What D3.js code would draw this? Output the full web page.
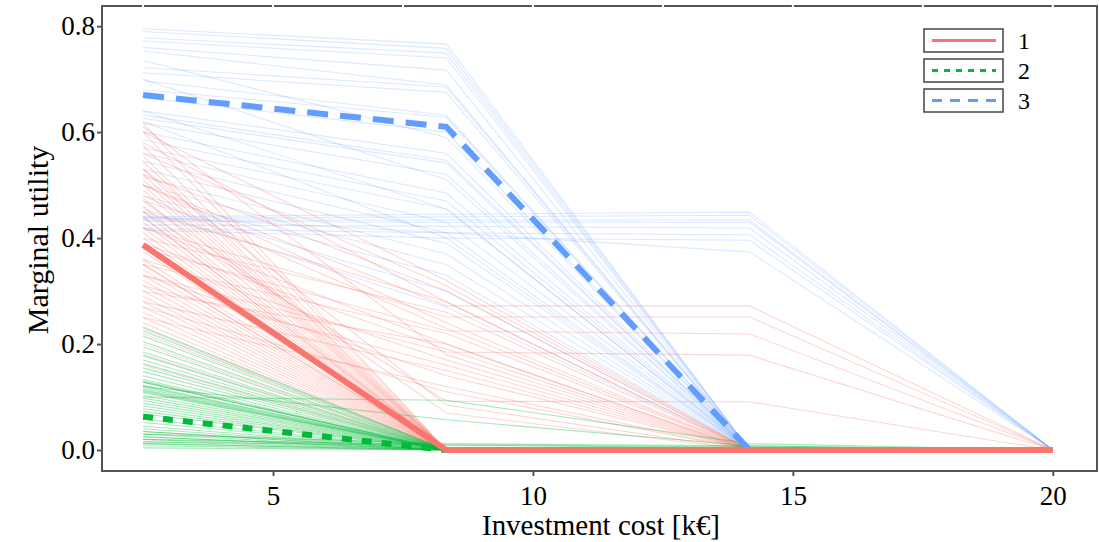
<!DOCTYPE html>
<html>
<head>
<meta charset="utf-8">
<script src="https://cdn.jsdelivr.net/npm/d3@7"></script>
<style>
  body { margin: 0; background: #fff; }
  svg { font-family: "Liberation Serif", "Times New Roman", serif; }
</style>
</head>
<body>
<div id="chart"></div>
<script>
// x positions of the four cost levels
const costs = [2.5, 8.333, 14.167, 20];
const xTicks = [5, 10, 15, 20];
const yTicks = [0, 0.2, 0.4, 0.6, 0.8];
const groups = ["1", "2", "3"];
const colors = ["#F8766D", "#00BA38", "#619CFF"];

// group 1 (red) individual curves
const redLines = [
  [0.617, 0, 0, 0], [0.600, 0, 0, 0], [0.575, 0, 0, 0], [0.555, 0, 0, 0],
  [0.545, 0, 0, 0], [0.530, 0, 0, 0], [0.520, 0, 0, 0], [0.510, 0, 0, 0],
  [0.500, 0, 0, 0], [0.490, 0, 0, 0], [0.475, 0, 0, 0], [0.460, 0, 0, 0],
  [0.450, 0, 0, 0], [0.440, 0, 0, 0], [0.430, 0, 0, 0], [0.420, 0, 0, 0],
  [0.410, 0, 0, 0], [0.400, 0, 0, 0], [0.390, 0, 0, 0], [0.375, 0, 0, 0],
  [0.360, 0, 0, 0], [0.350, 0, 0, 0], [0.340, 0, 0, 0], [0.330, 0, 0, 0],
  [0.320, 0, 0, 0], [0.310, 0, 0, 0], [0.300, 0, 0, 0], [0.290, 0, 0, 0],
  [0.280, 0, 0, 0], [0.270, 0, 0, 0], [0.260, 0, 0, 0], [0.250, 0, 0, 0],
  [0.240, 0, 0, 0], [0.230, 0, 0, 0], [0.220, 0, 0, 0], [0.200, 0, 0, 0],
  [0.180, 0, 0, 0], [0.160, 0, 0, 0], [0.440, 0, 0, 0], [0.350, 0, 0, 0],
  [0.600, 0.320, 0, 0], [0.580, 0.280, 0, 0], [0.520, 0.300, 0, 0],
  [0.500, 0.240, 0, 0], [0.450, 0.280, 0, 0], [0.420, 0.200, 0, 0],
  [0.400, 0.260, 0, 0], [0.360, 0.170, 0, 0], [0.350, 0.220, 0, 0],
  [0.310, 0.160, 0, 0], [0.300, 0.200, 0, 0], [0.280, 0.150, 0, 0],
  [0.250, 0.120, 0, 0], [0.530, 0.085, 0, 0], [0.470, 0.070, 0, 0],
  [0.560, 0.310, 0, 0], [0.480, 0.230, 0, 0], [0.390, 0.190, 0, 0],
  [0.330, 0.140, 0, 0], [0.270, 0.110, 0, 0], [0.610, 0.180, 0, 0],
  [0.500, 0.272, 0.272, 0], [0.420, 0.251, 0.251, 0], [0.380, 0.225, 0.219, 0],
  [0.330, 0.185, 0.179, 0], [0.450, 0.092, 0.091, 0]
];

// group 2 (green) individual curves
const greenLines = [
  [0.232, 0, 0, 0], [0.225, 0, 0, 0], [0.215, 0, 0, 0], [0.205, 0, 0, 0],
  [0.195, 0, 0, 0], [0.185, 0, 0, 0], [0.178, 0, 0, 0], [0.170, 0, 0, 0],
  [0.163, 0, 0, 0], [0.155, 0, 0, 0], [0.148, 0, 0, 0], [0.140, 0, 0, 0],
  [0.133, 0, 0, 0], [0.128, 0, 0, 0], [0.122, 0, 0, 0], [0.117, 0, 0, 0],
  [0.112, 0, 0, 0], [0.108, 0, 0, 0], [0.103, 0, 0, 0], [0.098, 0, 0, 0],
  [0.093, 0, 0, 0], [0.088, 0, 0, 0], [0.083, 0, 0, 0], [0.078, 0, 0, 0],
  [0.073, 0, 0, 0], [0.068, 0, 0, 0], [0.058, 0, 0, 0], [0.052, 0, 0, 0],
  [0.045, 0, 0, 0], [0.040, 0, 0, 0], [0.035, 0, 0, 0], [0.030, 0, 0, 0],
  [0.025, 0, 0, 0], [0.020, 0, 0, 0], [0.016, 0, 0, 0], [0.012, 0, 0, 0],
  [0.008, 0, 0, 0], [0.004, 0, 0, 0],
  [0.130, 0, 0, 0], [0.120, 0, 0, 0], [0.110, 0, 0, 0], [0.035, 0, 0, 0],
  [0.128, 0, 0, 0], [0.114, 0, 0, 0], [0.025, 0, 0, 0], [0.012, 0, 0, 0],
  [0.030, 0.012, 0.008, 0], [0.020, 0.010, 0.006, 0], [0.015, 0.009, 0.004, 0],
  [0.100, 0.094, 0.012, 0], [0.120, 0.057, 0.008, 0]
];

// group 3 (blue) individual curves
const blueLines = [
  [0.795, 0.766, 0, 0], [0.790, 0.758, 0, 0], [0.778, 0.749, 0, 0],
  [0.772, 0.740, 0, 0], [0.760, 0.717, 0, 0], [0.753, 0.689, 0, 0],
  [0.722, 0.685, 0, 0], [0.712, 0.675, 0, 0], [0.697, 0.632, 0, 0],
  [0.680, 0.628, 0, 0], [0.665, 0.600, 0, 0], [0.640, 0.560, 0, 0],
  [0.632, 0.547, 0, 0], [0.626, 0.542, 0, 0], [0.617, 0.520, 0, 0],
  [0.600, 0.485, 0, 0], [0.585, 0.470, 0, 0], [0.570, 0.455, 0, 0],
  [0.560, 0.430, 0, 0], [0.545, 0.410, 0, 0], [0.530, 0.390, 0, 0],
  [0.515, 0.370, 0, 0], [0.500, 0.350, 0, 0], [0.480, 0.330, 0, 0],
  [0.470, 0.300, 0, 0], [0.455, 0.270, 0, 0], [0.640, 0.455, 0, 0],
  [0.735, 0.590, 0, 0], [0.700, 0.510, 0, 0], [0.620, 0.400, 0, 0],
  [0.440, 0.445, 0.449, 0], [0.437, 0.440, 0.443, 0], [0.434, 0.434, 0.434, 0],
  [0.432, 0.430, 0.430, 0], [0.425, 0.422, 0.419, 0], [0.418, 0.410, 0.406, 0],
  [0.415, 0.400, 0.396, 0], [0.440, 0.410, 0.374, 0]
];

// cluster means (thick lines)
const redMean = [0.387, 0, 0, 0];
const greenMean = [0.063, 0, 0, 0];
const blueMean = [0.670, 0.610, 0, 0];

const width = 1099;
const height = 542;
const margin = {left: 102, right: 2, top: 6, bottom: 71};

const svg = d3.select("#chart")
  .append("svg")
  .attr("width", width)
  .attr("height", height);

const xScale = d3.scaleLinear()
  .domain([1.71, 20.85])
  .range([margin.left, width - margin.right]);

const yScale = d3.scaleLinear()
  .domain([-0.0396, 0.838])
  .range([height - margin.bottom, margin.top]);

const line = d3.line()
  .x((d, i) => xScale(costs[i]))
  .y(d => yScale(d));

const thin = [
  {lines: blueLines, color: colors[2], op: 0.22},
  {lines: redLines, color: colors[0], op: 0.3},
  {lines: greenLines, color: colors[1], op: 0.35}
];

thin.forEach(g => {
  svg.append("g")
    .selectAll("path")
    .data(g.lines)
    .join("path")
    .attr("fill", "none")
    .attr("stroke", g.color)
    .attr("stroke-opacity", g.op)
    .attr("stroke-width", 1.1)
    .attr("d", line);
});

// mean lines
svg.append("path")
  .datum(greenMean)
  .attr("fill", "none")
  .attr("stroke", colors[1])
  .attr("stroke-width", 6)
  .attr("stroke-dasharray", "10,10")
  .attr("d", line);

svg.append("path")
  .datum(blueMean)
  .attr("fill", "none")
  .attr("stroke", colors[2])
  .attr("stroke-width", 6)
  .attr("stroke-dasharray", "21,12")
  .attr("d", line);

svg.append("path")
  .datum(redMean)
  .attr("fill", "none")
  .attr("stroke", colors[0])
  .attr("stroke-width", 6)
  .attr("d", line);

// frame
svg.append("rect")
  .attr("x", margin.left)
  .attr("y", margin.top)
  .attr("width", width - margin.left - margin.right)
  .attr("height", height - margin.top - margin.bottom)
  .attr("fill", "none")
  .attr("stroke", "#555")
  .attr("stroke-width", 2);

// small white gaps in the top border at every 2.5
svg.append("g")
  .selectAll("line")
  .data(d3.range(2.5, 20.1, 2.5))
  .join("line")
  .attr("x1", d => xScale(d)).attr("x2", d => xScale(d))
  .attr("y1", margin.top - 2).attr("y2", margin.top + 2)
  .attr("stroke", "#fff")
  .attr("stroke-width", 2);

// X axis
const xAxis = svg.append("g")
  .attr("transform", `translate(0,${height - margin.bottom})`)
  .call(d3.axisBottom(xScale).tickValues(xTicks).tickSize(5).tickFormat(d3.format("d")));
xAxis.select(".domain").remove();
xAxis.selectAll("line").attr("stroke", "#555").attr("stroke-width", 2);
xAxis.selectAll("text")
  .attr("fill", "#000")
  .attr("font-size", 27)
  .attr("dy", "0.95em")
  .style("font-family", "Liberation Serif");

// Y axis
const yAxis = svg.append("g")
  .attr("transform", `translate(${margin.left},0)`)
  .call(d3.axisLeft(yScale).tickValues(yTicks).tickSize(5).tickFormat(d3.format(".1f")));
yAxis.select(".domain").remove();
yAxis.selectAll("line").attr("stroke", "#555").attr("stroke-width", 2);
yAxis.selectAll("text")
  .attr("fill", "#000")
  .attr("font-size", 27)
  .attr("x", -7)
  .style("font-family", "Liberation Serif");

// X label
svg.append("text")
  .attr("x", 601)
  .attr("y", 535)
  .attr("text-anchor", "middle")
  .attr("font-size", 30)
  .attr("textLength", 238)
  .attr("lengthAdjust", "spacingAndGlyphs")
  .text("Investment cost [k€]");

// Y label
svg.append("text")
  .attr("transform", "rotate(-90)")
  .attr("x", -240)
  .attr("y", 48)
  .attr("text-anchor", "middle")
  .attr("font-size", 30)
  .text("Marginal utility");

// legend
const legend = svg.append("g").attr("transform", "translate(924,29)");
const dashes = [null, "6,6", "10,8"];
groups.forEach((g, i) => {
  const row = legend.append("g").attr("transform", `translate(0,${i * 30})`);
  row.append("rect")
    .attr("width", 79)
    .attr("height", 23)
    .attr("fill", "#fff")
    .attr("stroke", "#444")
    .attr("stroke-width", 1.5);
  row.append("line")
    .attr("x1", 8).attr("x2", 72)
    .attr("y1", 11.5).attr("y2", 11.5)
    .attr("stroke", colors[i])
    .attr("stroke-width", 3)
    .attr("stroke-dasharray", dashes[i]);
  row.append("text")
    .attr("x", 94)
    .attr("y", 20)
    .attr("font-size", 24)
    .text(g);
});
</script>
</body>
</html>
